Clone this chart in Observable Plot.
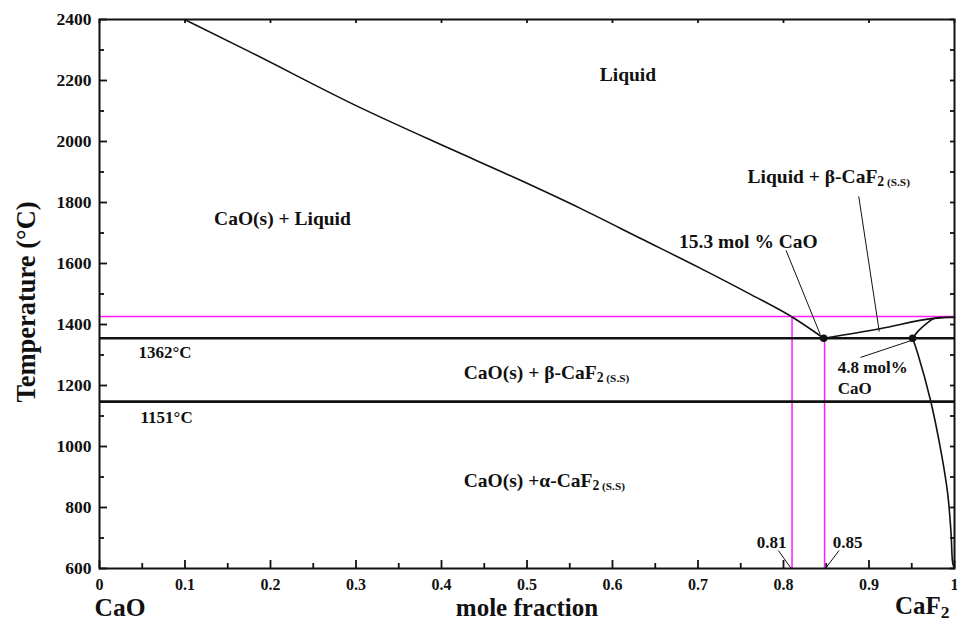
<!DOCTYPE html>
<html>
<head>
<meta charset="utf-8">
<script src="https://cdn.jsdelivr.net/npm/d3@7"></script>
<script src="https://cdn.jsdelivr.net/npm/@observablehq/plot@0.6"></script>
<style>
  html, body { margin: 0; padding: 0; background: #fff; }
</style>
</head>
<body>
<div id="chart"></div>
<script>
// ---- data ----
const xMajor = [0, 0.1, 0.2, 0.3, 0.4, 0.5, 0.6, 0.7, 0.8, 0.9, 1];
const xMinor = [0.05, 0.15, 0.25, 0.35, 0.45, 0.55, 0.65, 0.75, 0.85, 0.95];
const yMajor = [600, 800, 1000, 1200, 1400, 1600, 1800, 2000, 2200, 2400];
const yMinor = [700, 900, 1100, 1300, 1500, 1700, 1900, 2100, 2300];

// liquidus on CaO side
const liqCaOX = [0.0995, 0.173, 0.305, 0.407, 0.493, 0.563, 0.633, 0.703, 0.762, 0.811, 0.847];
const liqCaOT = [2400, 2298, 2111, 1980, 1872, 1780, 1682, 1584, 1498, 1423, 1355];
// liquidus on CaF2 side
const liqCaF2X = [0.847, 0.914, 0.976, 1.0];
const liqCaF2T = [1355, 1387, 1420, 1424];
// solidus of beta-CaF2 s.s.
const solX = [0.951, 0.958, 0.969, 0.976, 1.0];
const solT = [1355, 1380, 1407, 1420, 1423];
// solvus of beta-CaF2 s.s.
const solvX = [0.951, 0.957, 0.972, 0.984, 0.992, 0.996, 0.998, 1.0];
const solvT = [1355, 1305, 1151, 987, 846, 715, 616, 600];

const isotherms = [1355, 1147];          // eutectic 1362 °C and transition 1151 °C
const meltLine = [1426];                 // magenta horizontal
const magentaX = [0.81, 0.848];
const magentaTop = [1426, 1355];
const invariantX = [0.847, 0.951];
const invariantT = [1355, 1355];

// region / annotation labels
const labelText = ["Liquid", "CaO(s) + Liquid", "15.3 mol % CaO"];
const labelX = [0.618, 0.214, 0.759];
const labelT = [2220, 1748, 1672];

const subLabelText = ["Liquid + β-CaF_{2 (S.S)}", "CaO(s) + β-CaF_{2 (S.S)}", "CaO(s) +α-CaF_{2 (S.S)}"];
const subLabelX = [0.758, 0.426, 0.426];
const subLabelT = [1885, 1243, 889];

const tempText = ["1362°C", "1151°C", "4.8 mol%\nCaO"];
const tempX = [0.0456, 0.048, 0.8635];
const tempT = [1311, 1098, 1228];

const fracText = ["0.81", "0.85"];
const fracX = [0.786, 0.875];
const fracT = [685, 685];

// leader lines
const leadX1 = [0.803, 0.888, 0.890, 0.794, 0.865];
const leadT1 = [1643, 1820, 1292, 659, 659];
const leadX2 = [0.843, 0.912, 0.950, 0.809, 0.849];
const leadT2 = [1367, 1377, 1348, 600, 600];

// ---- build tables ----
const zip = (xs, ts) => xs.map((x, i) => ({x, t: ts[i]}));
const liqCaO = zip(liqCaOX, liqCaOT);
const liqCaF2 = zip(liqCaF2X, liqCaF2T);
const sol = zip(solX, solT);
const solv = zip(solvX, solvT);
const magenta = magentaX.map((x, i) => ({x, top: magentaTop[i]}));
const invariant = zip(invariantX, invariantT);
const labels = labelText.map((s, i) => ({s, x: labelX[i], t: labelT[i]}));
const subLabels = subLabelText.map((s, i) => ({s, x: subLabelX[i], t: subLabelT[i]}));
const temps = tempText.map((s, i) => ({s, x: tempX[i], t: tempT[i]}));
const fracs = fracText.map((s, i) => ({s, x: fracX[i], t: fracT[i]}));
const leaders = leadX1.map((x, i) => ({x1: x, t1: leadT1[i], x2: leadX2[i], t2: leadT2[i]}));

const ink = "#111";
const font = "Liberation Serif";
const bold = {fontWeight: "bold", fill: ink};

const W = 957, H = 623, mL = 99, mR = 3, mT = 19, mB = 55;
const xDom = [0, 1], yDom = [600, 2400];
// tick lengths in pixels, expressed in data units of each scale
const perPxX = (xDom[1] - xDom[0]) / (W - mL - mR);
const perPxY = (yDom[1] - yDom[0]) / (H - mT - mB);
const tk = {stroke: ink, strokeWidth: 1.8};

const chart = Plot.plot({
  width: W,
  height: H,
  marginLeft: mL,
  marginRight: mR,
  marginTop: mT,
  marginBottom: mB,
  x: {domain: xDom, label: null},
  y: {domain: yDom, label: null},
  style: {fontFamily: font, background: "#fff", color: ink},
  marks: [
    // magenta guide lines
    Plot.ruleY(meltLine, {stroke: "#ff1aff", strokeWidth: 1.5}),
    Plot.ruleX(magenta, {x: "x", y1: 600, y2: "top", stroke: "#ff1aff", strokeWidth: 1.5}),
    // isotherms
    Plot.ruleY(isotherms, {stroke: ink, strokeWidth: 2.6}),
    // phase boundaries
    Plot.line(liqCaO, {x: "x", y: "t", stroke: ink, strokeWidth: 1.6, curve: "monotone-x"}),
    Plot.line(liqCaF2, {x: "x", y: "t", stroke: ink, strokeWidth: 1.6, curve: "monotone-x"}),
    Plot.line(sol, {x: "x", y: "t", stroke: ink, strokeWidth: 1.6, curve: "catmull-rom"}),
    Plot.line(solv, {x: "x", y: "t", stroke: ink, strokeWidth: 1.6, curve: "catmull-rom"}),
    // leaders
    Plot.link(leaders, {x1: "x1", y1: "t1", x2: "x2", y2: "t2", stroke: ink, strokeWidth: 1}),
    // invariant points
    Plot.dot(invariant, {x: "x", y: "t", r: 3.8, fill: ink}),
    // inward ticks
    Plot.ruleX(xMajor, {x: d => d, y1: yDom[0], y2: yDom[0] + 8 * perPxY, ...tk}),
    Plot.ruleX(xMinor, {x: d => d, y1: yDom[0], y2: yDom[0] + 5 * perPxY, ...tk}),
    Plot.ruleX(xMajor, {x: d => d, y1: yDom[1], y2: yDom[1] - 4 * perPxY, ...tk}),
    Plot.ruleY(yMajor, {y: d => d, x1: xDom[0], x2: xDom[0] + 8 * perPxX, ...tk}),
    Plot.ruleY(yMinor, {y: d => d, x1: xDom[0], x2: xDom[0] + 5 * perPxX, ...tk}),
    Plot.ruleY(yMajor.concat(yMinor), {y: d => d, x1: xDom[1], x2: xDom[1] - 4 * perPxX, ...tk}),
    // frame
    Plot.frame({stroke: ink, strokeWidth: 2}),
    // tick labels
    Plot.axisX(xMajor, {anchor: "bottom", tickSize: 0, tickPadding: 10, label: null, fontSize: 16, ...bold,
      tickFormat: d => String(+d.toFixed(2))}),
    Plot.axisY(yMajor, {anchor: "left", tickSize: 0, tickPadding: 8, label: null, fontSize: 17.5, ...bold,
      tickFormat: d => String(d)}),
    // axis titles
    Plot.text(["Temperature (°C)"], {frameAnchor: "left", dx: -73, dy: 8, rotate: -90, textAnchor: "middle", fontSize: 26.5, ...bold}),
    Plot.text(["mole fraction"], {frameAnchor: "bottom", dy: 47, textAnchor: "middle", fontSize: 25, ...bold}),
    Plot.text(["CaO"], {frameAnchor: "bottom-left", dx: -5, dy: 47, textAnchor: "start", fontSize: 25.5, ...bold}),
    Plot.text(["CaF_{2}"], {frameAnchor: "bottom-right", dx: -5, dy: 45, textAnchor: "end", fontSize: 25, ...bold}),
    // region labels
    Plot.text(labels, {x: "x", y: "t", text: "s", fontSize: 19.5, ...bold}),
    Plot.text(subLabels, {x: "x", y: "t", text: "s", fontSize: 19.5, textAnchor: "start", ...bold}),
    Plot.text(temps, {x: "x", y: "t", text: "s", fontSize: 17, textAnchor: "start", lineHeight: 1.2, ...bold}),
    Plot.text(fracs, {x: "x", y: "t", text: "s", fontSize: 17, ...bold})
  ]
});

// subscripts: "A_{2 (S.S)}" -> A + small lowered "2" + smaller " (S.S)"
d3.select(chart).selectAll("text").each(function () {
  if (this.querySelector("tspan")) return;
  const m = this.textContent.match(/^(.*)_\{(.)(.*)\}$/);
  if (!m) return;
  const el = d3.select(this);
  el.text(null);
  el.append("tspan").text(m[1]);
  el.append("tspan").attr("dy", "0.25em").attr("font-size", "0.7em").text(m[2]);
  if (m[3]) el.append("tspan").attr("font-size", "0.58em").text(m[3]);
});

document.getElementById("chart").appendChild(chart);
</script>
</body>
</html>
